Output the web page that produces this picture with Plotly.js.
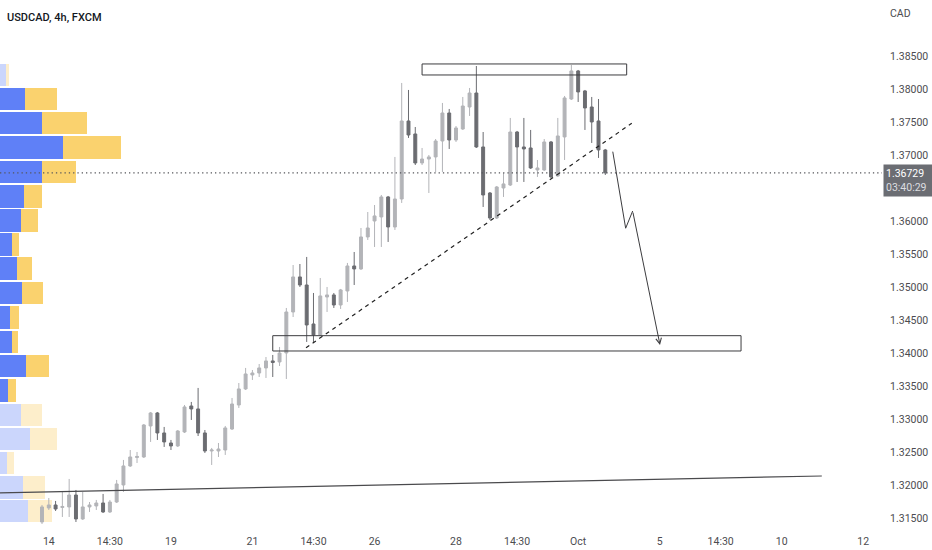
<!DOCTYPE html>
<html>
<head>
<meta charset="utf-8">
<script src="https://cdn.plot.ly/plotly-3.0.1.min.js"></script>
<style>
html, body { margin: 0; padding: 0; background: #fff; }
#chart { width: 932px; height: 550px; }
</style>
</head>
<body>
<div id="chart"></div>
<script>
// 4h candles, oldest first (bar index = position on the time axis)
const candle_open = [1.31439,1.31652,1.31697,1.31659,1.31667,1.31848,1.31485,1.31667,1.31682,1.31727,
    1.31591,1.31742,1.32000,1.32288,1.32417,1.32424,1.32894,1.33091,1.32788,1.32636,
    1.32591,1.32803,1.33197,1.33152,1.32788,1.32515,1.32515,1.32530,1.32848,1.33212,
    1.33455,1.33667,1.33697,1.33773,1.33879,1.33864,1.34000,1.34621,1.35152,1.35030,
    1.34439,1.34273,1.34848,1.34879,1.34727,1.34939,1.35318,1.35273,1.35758,1.36000,
    1.36061,1.36364,1.35909,1.36333,1.37515,1.37318,1.36879,1.36939,1.36970,1.37212,
    1.37636,1.37227,1.37394,1.37727,1.37939,1.37121,1.36424,1.36045,1.36500,1.36545,
    1.37348,1.37121,1.37106,1.36773,1.36773,1.37197,1.36682,1.37273,1.37848,1.38273,
    1.37970,1.37727,1.37515,1.37076]
const candle_high = [1.31697,1.31803,1.31758,1.31894,1.32091,1.31924,1.31894,1.31742,1.31773,1.31864,
    1.31773,1.32076,1.32379,1.32530,1.32500,1.32924,1.33106,1.33106,1.32879,1.32682,
    1.32833,1.33212,1.33258,1.33470,1.32833,1.32561,1.32636,1.32894,1.33318,1.33545,
    1.33773,1.33742,1.33833,1.33939,1.33970,1.34091,1.34682,1.35333,1.35348,1.35455,
    1.34909,1.35136,1.35000,1.34909,1.34970,1.35364,1.35530,1.35894,1.36136,1.36242,
    1.36394,1.36379,1.36970,1.38091,1.37985,1.37424,1.37106,1.37000,1.37242,1.37788,
    1.37697,1.37439,1.37879,1.38015,1.38348,1.37348,1.36439,1.36530,1.36727,1.37561,
    1.37364,1.37561,1.37379,1.36924,1.37242,1.37212,1.37561,1.37894,1.38364,1.38288,
    1.37985,1.37879,1.37848,1.37091]
const candle_low = [1.31409,1.31621,1.31606,1.31515,1.31515,1.31439,1.31470,1.31591,1.31621,1.31576,
    1.31576,1.31727,1.31894,1.32273,1.32333,1.32409,1.32652,1.32682,1.32576,1.32530,
    1.32576,1.32788,1.32985,1.32742,1.32485,1.32303,1.32424,1.32455,1.32833,1.33167,
    1.33439,1.33591,1.33636,1.33621,1.33636,1.33803,1.33606,1.34545,1.35000,1.34167,
    1.34151,1.34258,1.34621,1.34682,1.34667,1.34773,1.35030,1.35258,1.35712,1.35606,
    1.35606,1.35682,1.35864,1.36273,1.37258,1.36848,1.36848,1.36424,1.36742,1.36742,
    1.37091,1.37197,1.37379,1.37591,1.37106,1.36212,1.36015,1.36030,1.36364,1.36530,
    1.36591,1.36591,1.36788,1.36667,1.36758,1.36652,1.36667,1.36924,1.37833,1.37803,
    1.37379,1.37182,1.36955,1.36697]
const candle_close = [1.31667,1.31697,1.31636,1.31674,1.31848,1.31485,1.31667,1.31697,1.31727,1.31591,
    1.31742,1.32015,1.32288,1.32424,1.32432,1.32909,1.33091,1.32788,1.32652,1.32591,
    1.32818,1.33182,1.33152,1.32788,1.32515,1.32530,1.32545,1.32864,1.33227,1.33455,
    1.33682,1.33697,1.33773,1.33879,1.33856,1.34000,1.34621,1.35152,1.35030,1.34424,
    1.34273,1.34864,1.34879,1.34727,1.34955,1.35318,1.35273,1.35758,1.35894,1.36076,
    1.36364,1.35909,1.36333,1.37515,1.37303,1.36879,1.36939,1.36970,1.37212,1.37636,
    1.37227,1.37409,1.37742,1.37939,1.37121,1.36394,1.36045,1.36515,1.36561,1.37348,
    1.37121,1.37091,1.36803,1.36803,1.37197,1.36667,1.37288,1.37864,1.38273,1.37955,
    1.37712,1.37500,1.37076,1.36729]
const last_price = 1.36729
const countdown = "03:40:29"

// time axis labels (bar index -> label)
const time_tick_pos = [1, 10, 19, 31, 40, 49, 61, 70, 79, 91, 100, 109, 121]
const time_tick_text = ["14", "14:30", "19", "21", "14:30", "26", "28", "14:30", "Oct", "5", "14:30", "10", "12"]
const price_ticks = [1.315, 1.32, 1.325, 1.33, 1.335, 1.34, 1.345, 1.35, 1.355, 1.36, 1.37, 1.375, 1.38, 1.385]

// visible range volume profile (row price, up / down volume, inside value area)
const vp_price = [1.38212,1.37848,1.37485,1.37114,1.36742,1.36371,1.36008,1.35644,1.35280,1.34909,
    1.34538,1.34167,1.33803,1.33432,1.33061,1.32697,1.32333,1.31962,1.31606]
const vp_up = [6,25,42,63,42,24,21,12,17,22,10,12,26,8,21,30,7,23,28]
const vp_down = [3,32,45,58,34,18,17,7,15,21,9,6,23,8,21,27,7,22,24]
const vp_value_area = [false,true,true,true,true,true,true,true,true,true,true,true,true,true,false,false,false,false,false]

// drawings (bar index, price)
const top_zone_x = [56, 86.15], top_zone_y = [1.38212, 1.38379]
const bottom_zone_x = [34, 103], bottom_zone_y = [1.34030, 1.34262]
const trend_x = [38.9, 86.9], trend_y = [1.34080, 1.37480]
const support_x = [-7, 114.9], support_y = [1.31878, 1.32136]
const path_x = [84.1, 86.0, 87.03, 91.06], path_y = [1.37050, 1.35890, 1.36151, 1.34121]

const bar_idx = candle_open.map((_, i) => i)

const traces = [
    {
        type: 'bar', orientation: 'h', xaxis: 'x', yaxis: 'y',
        y: vp_price, x: vp_up, width: 0.00338,
        marker: { color: vp_value_area.map(v => v ? '#5f80f7' : '#cbd6fc'), line: { width: 0 } },
        hoverinfo: 'skip'
    },
    {
        type: 'bar', orientation: 'h', xaxis: 'x', yaxis: 'y',
        y: vp_price, x: vp_down, width: 0.00338,
        marker: { color: vp_value_area.map(v => v ? '#fad26e' : '#fdeecb'), line: { width: 0 } },
        hoverinfo: 'skip'
    },
    {
        type: 'candlestick', xaxis: 'x2', yaxis: 'y',
        x: bar_idx, open: candle_open, high: candle_high, low: candle_low, close: candle_close,
        increasing: { line: { color: '#b3b4b8', width: 1 }, fillcolor: '#b3b4b8' },
        decreasing: { line: { color: '#6b6c71', width: 1 }, fillcolor: '#6b6c71' },
        whiskerwidth: 0,
        hoverinfo: 'skip'
    }
]

const ink = '#3c3c3f'
const shapes = [
    { type: 'line', xref: 'paper', yref: 'y', x0: 0, x1: 1, y0: last_price, y1: last_price,
      line: { color: '#55565b', width: 1.3, dash: '1.3px,3px' } },
    { type: 'rect', xref: 'x2', yref: 'y', x0: top_zone_x[0], x1: top_zone_x[1], y0: top_zone_y[0], y1: top_zone_y[1],
      line: { color: ink, width: 1 }, fillcolor: 'rgba(0,0,0,0)' },
    { type: 'rect', xref: 'x2', yref: 'y', x0: bottom_zone_x[0], x1: bottom_zone_x[1], y0: bottom_zone_y[0], y1: bottom_zone_y[1],
      line: { color: ink, width: 1 }, fillcolor: 'rgba(0,0,0,0)' },
    { type: 'line', xref: 'x2', yref: 'y', x0: trend_x[0], x1: trend_x[1], y0: trend_y[0], y1: trend_y[1],
      line: { color: '#222', width: 1.2, dash: '4px,4px' } },
    { type: 'line', xref: 'x2', yref: 'y', x0: support_x[0], x1: support_x[1], y0: support_y[0], y1: support_y[1],
      line: { color: '#4a4a4d', width: 1.2 } }
]
for (let i = 0; i < path_x.length - 2; i++) {
    shapes.push({ type: 'line', xref: 'x2', yref: 'y', x0: path_x[i], x1: path_x[i + 1], y0: path_y[i], y1: path_y[i + 1],
                  line: { color: ink, width: 1 } })
}

const n = path_x.length
const annotations = [
    { xref: 'x2', yref: 'y', axref: 'x2', ayref: 'y',
      x: path_x[n - 1], y: path_y[n - 1], ax: path_x[n - 2], ay: path_y[n - 2],
      showarrow: true, arrowhead: 5, arrowsize: 1.1, arrowwidth: 1, arrowcolor: ink, text: '' },
    { xref: 'paper', yref: 'paper', x: 0.006, y: 1.004, xanchor: 'left', yanchor: 'middle', showarrow: false,
      text: 'USDCAD, 4h, FXCM', font: { family: 'Roboto, sans-serif', size: 11, weight: 500, color: '#131722' } },
    { xref: 'paper', yref: 'paper', x: 1.0215, y: 1.012, xanchor: 'center', yanchor: 'middle', showarrow: false,
      text: 'CAD', font: { family: 'Roboto, sans-serif', size: 10.5, color: '#4c4c50' } },
    { xref: 'paper', yref: 'y', x: 1, y: last_price, xanchor: 'left', yanchor: 'top', yshift: 9, xshift: 1,
      showarrow: false, align: 'left', bgcolor: '#6b6d73', borderpad: 2, width: 45,
      text: last_price.toFixed(5) + '<br><span style="color:#dcdde0">' + countdown + '</span>',
      font: { family: 'Roboto, sans-serif', size: 10.5, color: '#ffffff' } }
]

const tick_font = { family: 'Roboto, sans-serif', size: 10.5, color: '#4c4c50' }

const layout = {
    width: 932, height: 550,
    margin: { l: 0, r: 50, t: 20, b: 22 },
    paper_bgcolor: '#ffffff', plot_bgcolor: '#ffffff',
    showlegend: false,
    barmode: 'stack',
    boxgap: 0.38,
    xaxis: { range: [0, 882], visible: false, fixedrange: true },
    xaxis2: {
        overlaying: 'x', anchor: 'y', side: 'bottom',
        range: [-6.19, 123.77],
        tickmode: 'array', tickvals: time_tick_pos, ticktext: time_tick_text,
        showgrid: false, zeroline: false, showline: false,
        ticks: 'outside', ticklen: 3, tickcolor: 'rgba(0,0,0,0)',
        tickfont: tick_font,
        rangeslider: { visible: false }, fixedrange: true
    },
    yaxis: {
        side: 'right', range: [1.31348, 1.39045],
        tickmode: 'array', tickvals: price_ticks, tickformat: '.5f',
        showgrid: false, zeroline: false, showline: false,
        ticks: 'outside', ticklen: 5, tickcolor: 'rgba(0,0,0,0)',
        tickfont: tick_font, fixedrange: true
    },
    shapes: shapes,
    annotations: annotations
}

Plotly.newPlot('chart', traces, layout, { displayModeBar: false, staticPlot: true })
</script>
</body>
</html>
